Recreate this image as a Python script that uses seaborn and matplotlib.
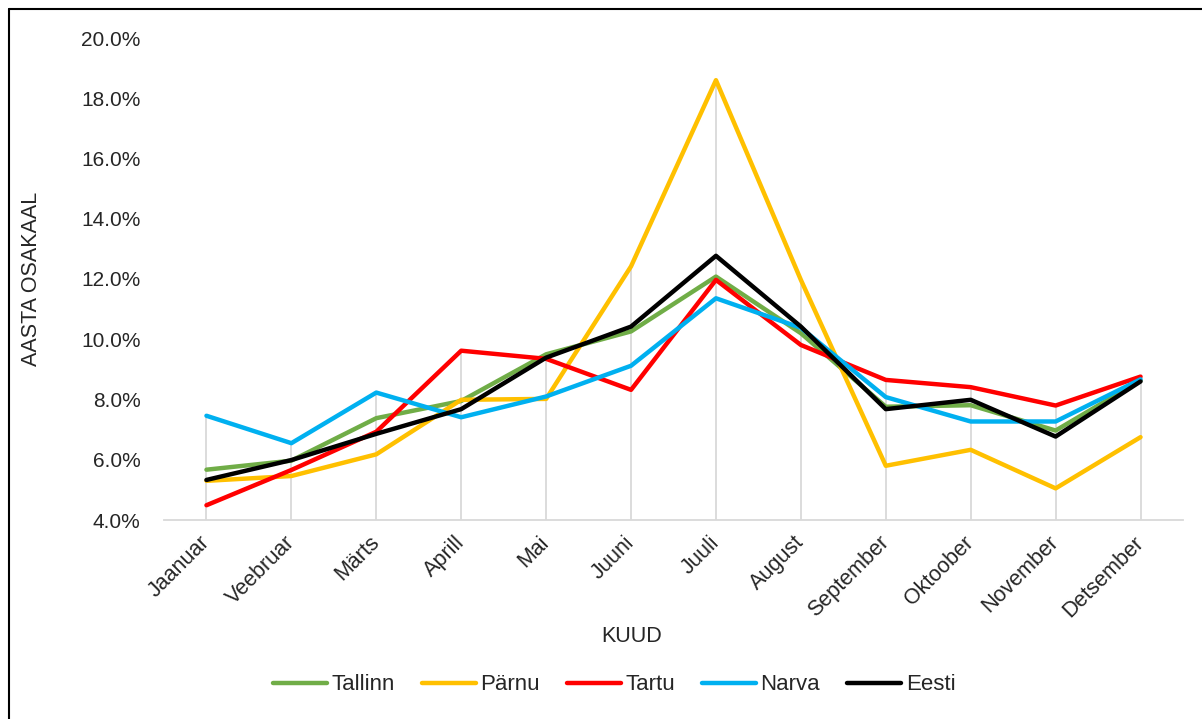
import numpy as np
import pandas as pd
import matplotlib
matplotlib.use("Agg")
import matplotlib.pyplot as plt
from matplotlib.lines import Line2D
from matplotlib import ticker
import seaborn as sns

months = ["Jaanuar", "Veebruar", "Märts", "Aprill", "Mai", "Juuni",
          "Juuli", "August", "September", "Oktoober", "November", "Detsember"]
tallinn = [5.67, 5.97, 7.38, 7.95, 9.50, 10.26, 12.08, 10.20, 7.76, 7.81, 6.97, 8.63]
parnu = [5.30, 5.46, 6.18, 7.99, 8.02, 12.42, 18.60, 11.97, 5.80, 6.33, 5.05, 6.75]
tartu = [4.49, 5.66, 6.93, 9.62, 9.35, 8.32, 11.97, 9.81, 8.65, 8.41, 7.80, 8.76]
narva = [7.46, 6.55, 8.23, 7.41, 8.10, 9.12, 11.36, 10.38, 8.08, 7.27, 7.27, 8.67]
eesti = [5.33, 5.99, 6.86, 7.68, 9.39, 10.42, 12.77, 10.42, 7.68, 7.99, 6.77, 8.60]

series = {"Tallinn": tallinn, "Pärnu": parnu, "Tartu": tartu, "Narva": narva, "Eesti": eesti}
colors = {"Tallinn": "#70AD47", "Pärnu": "#FFC000", "Tartu": "#FF0000",
          "Narva": "#00B0F0", "Eesti": "#000000"}

rows = []
for name, vals in series.items():
    for i, v in enumerate(vals):
        rows.append({"idx": i, "kuu": months[i], "linn": name, "osakaal": v})
df = pd.DataFrame(rows)

sns.set_style("white")
plt.rcParams['font.family'] = ['Liberation Sans', 'DejaVu Sans']

fig = plt.figure(figsize=(12.02, 7.19), dpi=100)
ax = fig.add_axes([164 / 1202, 1 - 520 / 719, (1183 - 164) / 1202, (520 - 38) / 719])

# drop lines from highest value down to the axis (Excel style)
top = df.groupby("idx")["osakaal"].max()
ax.vlines(top.index, 4, top.values, color="#d9d9d9", lw=1.3, zorder=0)

sns.lineplot(data=df, x="idx", y="osakaal", hue="linn", hue_order=list(series.keys()),
             palette=colors, lw=3.2, ax=ax, legend=False, sort=False)

ax.set_xlim(-0.5, 11.5)
ax.set_ylim(4, 20)
ax.set_yticks(np.arange(4, 20.1, 2))
ax.yaxis.set_major_formatter(ticker.FuncFormatter(lambda v, p: f"{v:.1f}%"))
ax.set_xticks(range(len(months)))
ax.set_xticklabels(months, rotation=45, ha="right", va="center", rotation_mode="anchor")
ax.tick_params(axis="y", length=0, pad=17, labelsize=15)
ax.tick_params(axis="x", length=0, pad=14, labelsize=15.5)

for s in ["top", "right", "left"]:
    ax.spines[s].set_visible(False)
ax.spines["bottom"].set_color("#d9d9d9")
ax.spines["bottom"].set_linewidth(1.3)

ax.set_xlabel("KUUD", fontsize=15.5, va="center")
ax.xaxis.set_label_coords((632 - 164) / 1019, (520 - 637) / 482)
ax.set_ylabel("AASTA OSAKAAL", fontsize=15.5, va="center")
ax.yaxis.set_label_coords((32 - 164) / 1019, 0.5)

handles = [Line2D([0], [0], color=colors[n], lw=3.2, solid_capstyle="round") for n in series]
fig.legend(handles, list(series.keys()), loc="center", bbox_to_anchor=(614 / 1202, 1 - 685 / 719),
           ncol=5, frameon=False, fontsize=16, handlelength=2.45, handletextpad=0.2,
           columnspacing=1.2)

# chart border (left and top only visible)
fig.add_artist(Line2D([9 / 1202, 9 / 1202], [0, 1 - 9 / 719], color="black", lw=1.5))
fig.add_artist(Line2D([9 / 1202, 1], [1 - 9 / 719, 1 - 9 / 719], color="black", lw=1.5))

fig.savefig("out.png", dpi=100)
